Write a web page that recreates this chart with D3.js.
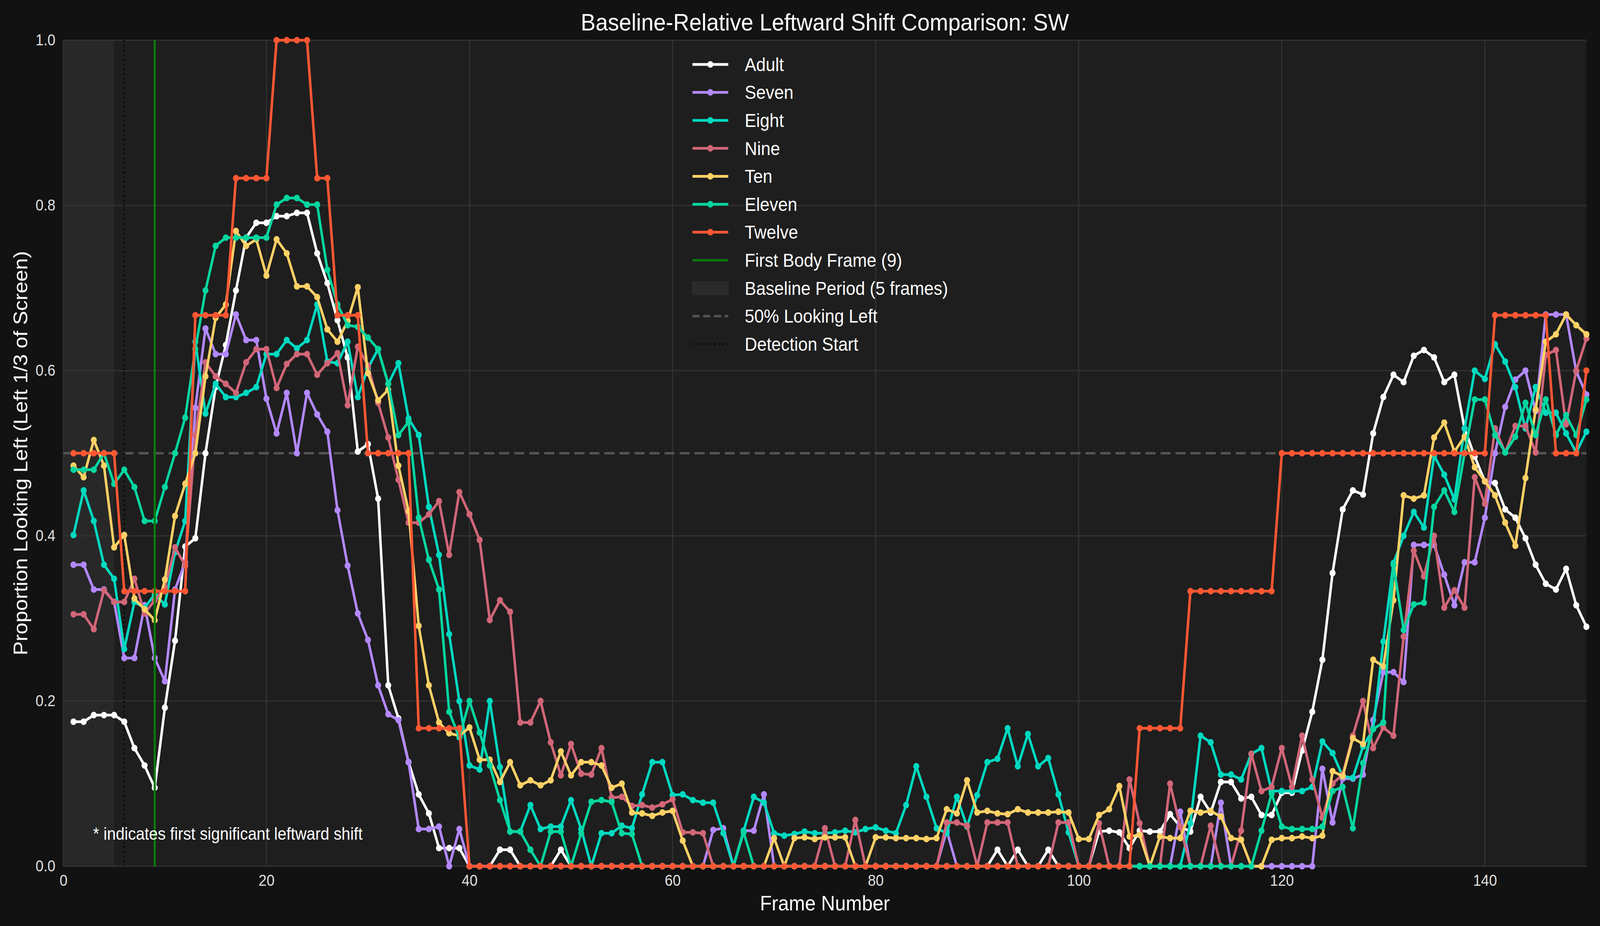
<!DOCTYPE html>
<html>
<head>
<meta charset="utf-8">
<script src="https://cdn.jsdelivr.net/npm/d3@7"></script>
<style>
  html, body { margin: 0; padding: 0; background: #121212; overflow: hidden; width: 100%; height: 100%; }
  svg { display: block; width: 100vw; height: 100vh; }
</style>
</head>
<body>
<svg id="chart"></svg>
<script>
// frames 1..150
var adult = [.175,.175,.183,.183,.183,.175,.143,.122,.095,.192,
  .273,.387,.397,.5,.58,.631,.697,.761,.779,.779,
  .787,.787,.791,.791,.742,.706,.661,.616,.502,.511,
  .445,.219,.179,.126,.087,.064,.022,.022,.022,0,
  0,0,.02,.02,0,0,0,0,.02,0,
  0,0,0,0,0,0,0,0,0,0,
  0,0,0,0,0,0,0,0,0,0,
  0,0,0,0,0,0,0,0,0,0,
  0,0,0,0,0,0,0,0,0,0,
  0,.02,0,.02,0,0,.02,0,0,0,
  0,.042,.043,.041,.022,.043,.042,.042,.063,.048,
  .042,.084,.065,.102,.102,.082,.084,.062,.062,.089,
  .089,.14,.187,.25,.355,.432,.455,.45,.524,.568,
  .595,.586,.618,.625,.616,.586,.595,.53,.496,.466,
  .464,.432,.422,.397,.365,.342,.335,.36,.316,.29];
var seven = [.365,.365,.335,.335,.32,.252,.252,.316,.252,.224,
  .335,.368,.555,.651,.62,.62,.668,.637,.637,.566,
  .524,.573,.5,.573,.547,.526,.431,.364,.306,.274,
  .219,.184,.177,.126,.045,.045,.048,0,.045,0,
  0,0,0,0,0,0,0,0,0,0,
  0,0,0,0,0,0,0,0,0,0,
  0,0,0,.044,.046,0,.043,.043,.087,0,
  0,0,0,0,0,0,0,0,0,0,
  0,0,0,0,0,0,.043,0,0,0,
  0,0,0,0,0,0,0,0,0,0,
  0,0,0,0,0,0,0,0,0,.066,
  0,0,0,.077,0,0,0,0,0,0,
  0,0,0,.118,.053,.106,.106,.111,.177,.235,
  .235,.223,.389,.389,.389,.353,.316,.368,.368,.422,
  .5,.556,.589,.6,.551,.668,.668,.668,.599,.571];
var eight = [.401,.455,.418,.365,.348,.263,.32,.313,.329,.317,
  .38,.418,.635,.548,.584,.568,.568,.573,.58,.62,
  .62,.637,.627,.637,.68,.611,.609,.635,.568,.603,
  .626,.584,.609,.542,.522,.435,.377,.281,.2,.122,
  .117,.2,.12,.042,.042,.074,.045,.048,.048,.08,
  .045,0,.04,.04,.049,.046,.087,.126,.126,.086,
  .087,.08,.077,.077,.04,0,.043,.084,.077,.04,
  .037,.039,.042,.04,.04,.041,.043,.041,.045,.047,
  .043,.04,.074,.121,.084,.046,.04,.084,.048,.086,
  .126,.13,.167,.121,.16,.121,.131,.087,.041,0,
  0,0,0,0,0,0,0,0,0,0,
  .052,.158,.15,.111,.111,.105,.136,.143,.091,.091,
  .091,.091,.096,.151,.137,.109,.107,.145,.166,.272,
  .367,.4,.429,.41,.497,.474,.444,.53,.6,.59,
  .632,.611,.58,.53,.58,.549,.549,.524,.501,.526];
var nine = [.305,.305,.287,.334,.32,.32,.348,.306,.322,.338,
  .386,.364,.522,.61,.593,.584,.573,.61,.626,.626,
  .579,.608,.62,.62,.595,.609,.621,.558,.629,.606,
  .561,.519,.468,.416,.416,.426,.442,.377,.453,.426,
  .395,.298,.322,.308,.174,.174,.2,.15,.11,.148,
  .112,.111,.143,.083,.084,.073,.074,.071,.075,.081,
  .041,.041,.04,0,0,0,0,0,0,0,
  0,0,0,0,.046,0,0,.056,0,0,
  0,0,0,0,0,0,.053,.053,.049,0,
  .053,.053,.053,0,0,0,0,.053,.053,0,
  0,.052,0,0,.105,.052,0,0,.1,.048,
  0,0,.049,0,0,.043,.136,.091,.096,.143,
  .096,.158,.105,.059,.1,.111,.158,.2,.143,.168,
  .158,.278,.382,.351,.4,.313,.334,.313,.471,.439,
  .53,.501,.533,.533,.501,.619,.625,.535,.6,.639];
var ten = [.485,.471,.516,.485,.386,.401,.324,.311,.298,.347,
  .424,.463,.5,.593,.664,.68,.769,.751,.759,.715,
  .759,.742,.702,.702,.689,.65,.635,.66,.701,.597,
  .564,.577,.485,.43,.291,.219,.174,.161,.158,.168,
  .129,.129,.102,.126,.098,.104,.098,.104,.139,.11,
  .126,.126,.122,.095,.1,.065,.064,.061,.065,.067,
  .031,0,0,0,0,0,0,0,0,.034,
  0,.034,.035,.033,.035,.035,.035,0,0,.035,
  .035,.034,.034,.034,.033,.034,.069,.064,.104,.065,
  .067,.064,.063,.069,.065,.065,.065,.066,.065,.033,
  .033,.062,.069,.097,.036,.038,0,.036,.034,.034,
  .067,.065,.067,.06,.034,.032,0,0,.032,.034,
  .034,.036,.034,.037,.115,.109,.155,.148,.25,.242,
  .322,.449,.445,.449,.519,.537,.502,.52,.483,.466,
  .449,.416,.388,.47,.553,.635,.644,.668,.655,.644];
var eleven = [.48,.48,.48,.5,.463,.48,.459,.418,.418,.459,
  .5,.543,.626,.697,.751,.761,.761,.761,.761,.761,
  .801,.809,.809,.801,.801,.722,.68,.655,.653,.64,
  .626,.584,.522,.538,.422,.371,.335,.187,.156,.2,
  .162,.122,.08,.042,.042,.02,0,.042,.042,0,
  .04,.078,.08,.078,.04,.039,0,0,0,0,
  0,0,0,0,0,0,.041,0,0,0,
  0,0,0,0,0,0,0,0,0,0,
  0,0,0,0,0,0,0,0,0,0,
  0,0,0,0,0,0,0,0,0,0,
  0,0,0,0,0,0,0,0,0,0,
  0,0,0,0,0,0,0,.043,.088,.048,
  .045,.045,.045,.048,.091,.096,.046,.125,.166,.174,
  .365,.286,.317,.319,.435,.455,.429,.5,.565,.565,
  .522,.501,.52,.561,.522,.565,.522,.546,.522,.565];
var twelve = [.5,.5,.5,.5,.5,.333,.333,.333,.333,.333,
  .333,.333,.667,.667,.667,.667,.833,.833,.833,.833,
  1,1,1,1,.833,.833,.667,.667,.667,.5,
  .5,.5,.5,.5,.167,.167,.167,.167,.167,0,
  0,0,0,0,0,0,0,0,0,0,
  0,0,0,0,0,0,0,0,0,0,
  0,0,0,0,0,0,0,0,0,0,
  0,0,0,0,0,0,0,0,0,0,
  0,0,0,0,0,0,0,0,0,0,
  0,0,0,0,0,0,0,0,0,0,
  0,0,0,0,0,.167,.167,.167,.167,.167,
  .333,.333,.333,.333,.333,.333,.333,.333,.333,.5,
  .5,.5,.5,.5,.5,.5,.5,.5,.5,.5,
  .5,.5,.5,.5,.5,.5,.5,.5,.5,.5,
  .667,.667,.667,.667,.667,.667,.5,.5,.5,.6];

var seriesNames = ["Adult","Seven","Eight","Nine","Ten","Eleven","Twelve"];
var seriesValues = [adult, seven, eight, nine, ten, eleven, twelve];
var seriesColors = ["#ffffff","#b388ff","#00d9c0","#d16678","#ffd166","#06d6a0","#ff5733"];
var xTicks = [0,20,40,60,80,100,120,140];
var yTicks = [0,0.2,0.4,0.6,0.8,1.0];
var firstBodyFrame = 9, baselineEnd = 5, detectionStart = 6;

var W = 4471, H = 2371;
var margin = {top: 103, right: 38, bottom: 153, left: 177};
var width = W - margin.left - margin.right;
var height = H - margin.top - margin.bottom;
var font = "'Liberation Sans', Arial, sans-serif";

var svg = d3.select("#chart").attr("viewBox", "0 0 " + W + " " + H)
  .attr("preserveAspectRatio", "none");
svg.append("rect").attr("width", W).attr("height", H).attr("fill", "#121212");

var g = svg.append("g").attr("transform", "translate(" + margin.left + "," + margin.top + ")");

var x = d3.scaleLinear().domain([0, 150]).range([0, width]);
var y = d3.scaleLinear().domain([0, 1]).range([height, 0]);

g.append("rect").attr("width", width).attr("height", height).attr("fill", "#1e1e1e");

// baseline shading
g.append("rect").attr("x", x(0)).attr("width", x(baselineEnd) - x(0))
  .attr("height", height).attr("fill", "#2a2a2a").attr("opacity", 0.8);

// grid
g.selectAll(".gx").data(xTicks).enter().append("line")
  .attr("x1", d => x(d)).attr("x2", d => x(d)).attr("y1", 0).attr("y2", height)
  .attr("stroke", "#333").attr("stroke-width", 3);
g.selectAll(".gy").data(yTicks).enter().append("line")
  .attr("y1", d => y(d)).attr("y2", d => y(d)).attr("x1", 0).attr("x2", width)
  .attr("stroke", "#333").attr("stroke-width", 3);

// axes
var xAxis = g.append("g").attr("transform", "translate(0," + height + ")")
  .call(d3.axisBottom(x).tickValues(xTicks).tickSize(0).tickPadding(22));
var yAxis = g.append("g")
  .call(d3.axisLeft(y).tickValues(yTicks).tickSize(0).tickPadding(22).tickFormat(d3.format(".1f")));
[xAxis, yAxis].forEach(function(a) {
  a.select(".domain").remove();
  a.selectAll("text").attr("fill", "#e0e0e0").style("font-size", "40px").style("font-family", font);
});

// 50% line
g.append("line").attr("x1", 0).attr("x2", width).attr("y1", y(0.5)).attr("y2", y(0.5))
  .attr("stroke", "#555").attr("stroke-width", 6).attr("stroke-dasharray", "28,14");

// detection start
g.append("line").attr("x1", x(detectionStart)).attr("x2", x(detectionStart)).attr("y1", 0).attr("y2", height)
  .attr("stroke", "#0e0e0e").attr("stroke-width", 6).attr("stroke-dasharray", "5,7");

var line = d3.line().x((d, i) => x(i + 1)).y(d => y(d));

seriesValues.forEach(function(vals, k) {
  var s = g.append("g");
  s.append("path").datum(vals).attr("d", line).attr("fill", "none")
    .attr("stroke", seriesColors[k]).attr("stroke-width", 7).attr("stroke-linejoin", "round");
  s.selectAll("circle").data(vals).enter().append("circle")
    .attr("cx", (d, i) => x(i + 1)).attr("cy", d => y(d)).attr("r", 8.5)
    .attr("fill", seriesColors[k]);
});

// first body frame
g.append("line").attr("x1", x(firstBodyFrame)).attr("x2", x(firstBodyFrame)).attr("y1", 0).attr("y2", height)
  .attr("stroke", "#0a7a0a").attr("stroke-width", 6);

// annotation
g.append("text").attr("x", 83).attr("y", 2150 - margin.top).text("* indicates first significant leftward shift")
  .attr("fill", "#ffffff").style("font-size", "44px").style("font-family", font);

// legend
var leg = svg.append("g").attr("transform", "translate(1935,165)");
var items = seriesNames.map((n, i) => ({name: n, type: "series", color: seriesColors[i]}));
items.push({name: "First Body Frame (9)", type: "green"});
items.push({name: "Baseline Period (5 frames)", type: "patch"});
items.push({name: "50% Looking Left", type: "dash"});
items.push({name: "Detection Start", type: "dot"});
items.forEach(function(it, i) {
  var r = leg.append("g").attr("transform", "translate(0," + (i * 71.6) + ")");
  if (it.type === "series") {
    r.append("line").attr("x1", 0).attr("x2", 100).attr("stroke", it.color).attr("stroke-width", 7);
    r.append("circle").attr("cx", 50).attr("r", 8.5).attr("fill", it.color);
  } else if (it.type === "green") {
    r.append("line").attr("x1", 0).attr("x2", 100).attr("stroke", "#0a7a0a").attr("stroke-width", 6);
  } else if (it.type === "patch") {
    r.append("rect").attr("x", 0).attr("y", -17).attr("width", 100).attr("height", 34)
      .attr("fill", "#2a2a2a").attr("stroke", "#333");
  } else if (it.type === "dash") {
    r.append("line").attr("x1", 0).attr("x2", 100).attr("stroke", "#555").attr("stroke-width", 6)
      .attr("stroke-dasharray", "20,10");
  } else {
    r.append("line").attr("x1", 0).attr("x2", 100).attr("stroke", "#0e0e0e").attr("stroke-width", 6)
      .attr("stroke-dasharray", "5,7");
  }
  r.append("text").attr("x", 146).attr("y", 0).attr("dy", "0.35em").text(it.name)
    .attr("fill", "#ffffff").style("font-size", "48px").style("font-family", font);
});

// title and axis labels
svg.append("text").attr("x", margin.left + width / 2).attr("y", 56).attr("text-anchor", "middle")
  .attr("dy", "0.35em").text("Baseline-Relative Leftward Shift Comparison: SW")
  .attr("fill", "#ffffff").style("font-size", "62px").style("font-family", font);
svg.append("text").attr("x", margin.left + width / 2).attr("y", 2312).attr("text-anchor", "middle")
  .attr("dy", "0.35em").text("Frame Number")
  .attr("fill", "#ffffff").style("font-size", "54px").style("font-family", font);
svg.append("text").attr("transform", "translate(58," + (margin.top + height / 2) + ") rotate(-90)")
  .attr("text-anchor", "middle").attr("dy", "0.35em").text("Proportion Looking Left (Left 1/3 of Screen)")
  .attr("fill", "#ffffff").style("font-size", "54px").style("font-family", font);
</script>
</body>
</html>
